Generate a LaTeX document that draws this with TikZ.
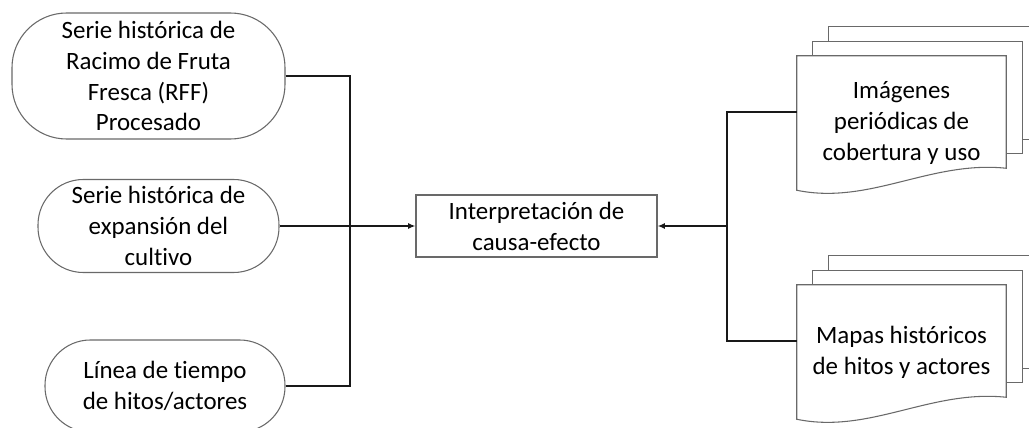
\documentclass[tikz,border=0pt]{standalone}
\usepackage{fontspec}
\setmainfont{Carlito}[Ligatures=NoCommon]
\usetikzlibrary{arrows.meta,backgrounds}
\definecolor{shapeLine}{RGB}{105,105,105}
\definecolor{linkInk}{RGB}{25,25,25}
\tikzset{
  stadium/.style={draw=shapeLine, line width=0.8pt, rounded corners=34pt, align=center, inner sep=0pt, minimum height=69.75pt, font=\fontsize{18.7}{23.2}\selectfont},
  procbox/.style={draw=shapeLine, line width=0.9pt, align=center, inner sep=0pt, minimum width=180.75pt, minimum height=46.5pt, font=\fontsize{18.7}{23.2}\selectfont},
  docnode/.style={align=center, inner sep=0pt, minimum width=156.75pt, minimum height=100.5pt, font=\fontsize{18.7}{23.2}\selectfont},
  page/.style={draw=shapeLine, line width=0.8pt, fill=white},
  link/.style={draw=linkInk, line width=1pt},
  flow/.style={link, -{Latex[length=5.5pt,width=4.5pt]}}
}
\newcommand{\docstack}[1]{%
  \foreach \k in {2,1}{%
    \draw[page] ([xshift=\k*12pt,yshift=\k*10.9pt]#1.north west) rectangle ([xshift=\k*12pt,yshift=\k*10.9pt+16.5pt]#1.south east);
  }
  \draw[page] (#1.north west) -- (#1.north east) -- ([yshift=16.5pt]#1.south east)
    .. controls ([xshift=-57pt,yshift=22.5pt]#1.south east) and ([xshift=54.75pt,yshift=-11.25pt]#1.south west) .. (#1.south west) -- cycle;
}
\begin{document}
\begin{tikzpicture}[x=0.75pt, y=-0.75pt]
        \useasboundingbox (0,0) rectangle (1029,428);
        \node[stadium, rounded corners=41pt, minimum width=204.75pt, minimum height=94.5pt] (rff) at (148.5,76) {Serie histórica de\\Racimo de Fruta\\Fresca (RFF)\\Procesado};
        \node[stadium, minimum width=180.75pt] (expan) at (158.5,226) {Serie histórica de\\expansión del\\cultivo};
        \node[stadium, minimum width=180pt, minimum height=69pt] (linea) at (165,386) {Línea de tiempo\\de hitos/actores};
        \node[procbox] (causa) at (536.5,226) {Interpretación de\\causa-efecto};
        \node[docnode] (imgs) at (901.5,123) {Imágenes\\periódicas de\\cobertura y uso};
        \node[docnode] (mapas) at (901.5,352) {Mapas históricos\\de hitos y actores};
        \begin{scope}[on background layer]
          \docstack{imgs}
          \docstack{mapas}
        \end{scope}
        \coordinate (ljoin) at (350,226);
        \coordinate (rjoin) at (727,226);
        \draw[link] (rff.east) -| (ljoin) |- (linea.east);
        \draw[flow] (expan.east) -- (causa.west);
        \draw[link] ([yshift=8.25pt]imgs.west) -| (rjoin) |- ([yshift=8.25pt]mapas.west);
        \draw[flow] (rjoin) -- (causa.east);
      \end{tikzpicture}
\end{document}
